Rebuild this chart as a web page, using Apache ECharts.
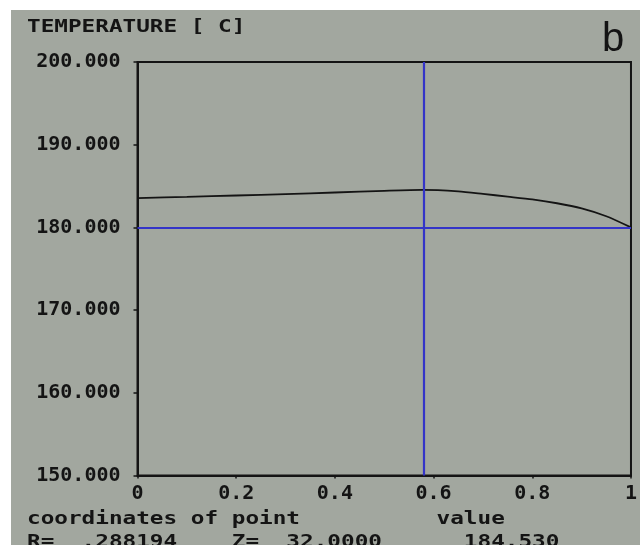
<!DOCTYPE html>
<html>
<head>
<meta charset="utf-8">
<style>
  html, body { margin: 0; padding: 0; background: #ffffff; }
  #chart { width: 640px; height: 545px; }
</style>
<script src="https://cdn.jsdelivr.net/npm/echarts@6/dist/echarts.min.js"></script>
</head>
<body>
<div id="chart"></div>
<script>
// Radial position (normalised) and temperature profile along it
const rPos = [0, 0.1, 0.2, 0.3, 0.4, 0.5, 0.577, 0.65, 0.7, 0.75, 0.8, 0.85, 0.9, 0.95, 1];
const temperature = [183.55, 183.70, 183.86, 184.03, 184.22, 184.42, 184.53, 184.35, 184.05, 183.72, 183.38, 182.92, 182.30, 181.35, 180.00];

// Probe crosshair: selected point and reference level
const probeR = 0.577;
const probeLevel = 180;
const probeReadout = { r: '.288194', z: '32.0000', value: 184.530 };

// Tick labels
const xTickLabels = ['0', '0.2', '0.4', '0.6', '0.8', '1'];
const yTickLabels = ['150.000', '160.000', '170.000', '180.000', '190.000', '200.000'];

const MONO = '"DejaVu Sans Mono", "Liberation Mono", monospace';
const INK = '#141414';
const PANEL = '#a2a79f';
const BLUE = '#3434c8';

// Terminal-style text rows: monospace columns stretched to the wide cell width
const CELL = 13.65, FS = 17, SX = CELL / (0.602 * FS);
function pad(s, n) { while (s.length < n) s += ' '; return s; }
const row1 = pad('coordinates of point', 30) + 'value';
const row2 = pad('R=  ' + probeReadout.r, 15) + pad('Z=  ' + probeReadout.z, 17) + probeReadout.value.toFixed(3);

function monoText(str, x, y) {
  return {
    type: 'text', x: x, y: y, scaleX: SX, z: 10,
    style: { text: str, font: 'bold ' + FS + 'px ' + MONO, fill: INK, textVerticalAlign: 'middle', textAlign: 'left' }
  };
}

const chart = echarts.init(document.getElementById('chart'));
chart.setOption({
  animation: false,
  backgroundColor: '#ffffff',
  graphic: [
    { type: 'rect', shape: { x: 11, y: 10, width: 629, height: 535 }, style: { fill: PANEL }, z: -10 },
    monoText('TEMPERATURE [ C]', 27, 27.5),
    monoText(row1, 27, 520),
    monoText(row2, 27, 543),
    {
      type: 'text', x: 602, y: 40, z: 10,
      style: { text: 'b', font: '40px "Liberation Sans", Arial, sans-serif', fill: INK, textVerticalAlign: 'middle', textAlign: 'left' }
    }
  ],
  grid: {
    left: 137.5, right: 2, top: 62, bottom: 69.5,
    show: true, borderColor: INK, borderWidth: 2, backgroundColor: 'transparent'
  },
  xAxis: {
    type: 'value', min: 0, max: 1, interval: 0.2,
    axisLine: { show: true, lineStyle: { color: INK, width: 2 } },
    axisTick: { show: true, length: 3, lineStyle: { color: INK, width: 1.5 } },
    splitLine: { show: false },
    axisLabel: {
      margin: 8, color: INK, fontFamily: MONO, fontWeight: 'bold', fontSize: 20,
      formatter: function (v) { return xTickLabels[Math.round(v / 0.2)]; }
    }
  },
  yAxis: {
    type: 'value', min: 150, max: 200, interval: 10,
    axisLine: { show: true, lineStyle: { color: INK, width: 2 } },
    axisTick: { show: true, length: 4, lineStyle: { color: INK, width: 1.5 } },
    splitLine: { show: false },
    axisLabel: {
      margin: 17, color: INK, fontFamily: MONO, fontWeight: 'bold', fontSize: 20,
      formatter: function (v) { return yTickLabels[Math.round((v - 150) / 10)]; }
    }
  },
  series: [{
    type: 'line',
    data: rPos.map(function (r, i) { return [r, temperature[i]]; }),
    showSymbol: false,
    smooth: 0.25,
    lineStyle: { color: INK, width: 1.8 },
    silent: true,
    markLine: {
      silent: true,
      symbol: 'none',
      label: { show: false },
      lineStyle: { color: BLUE, width: 2.2, type: 'solid' },
      data: [{ xAxis: probeR }, { yAxis: probeLevel }]
    }
  }]
});
</script>
</body>
</html>
